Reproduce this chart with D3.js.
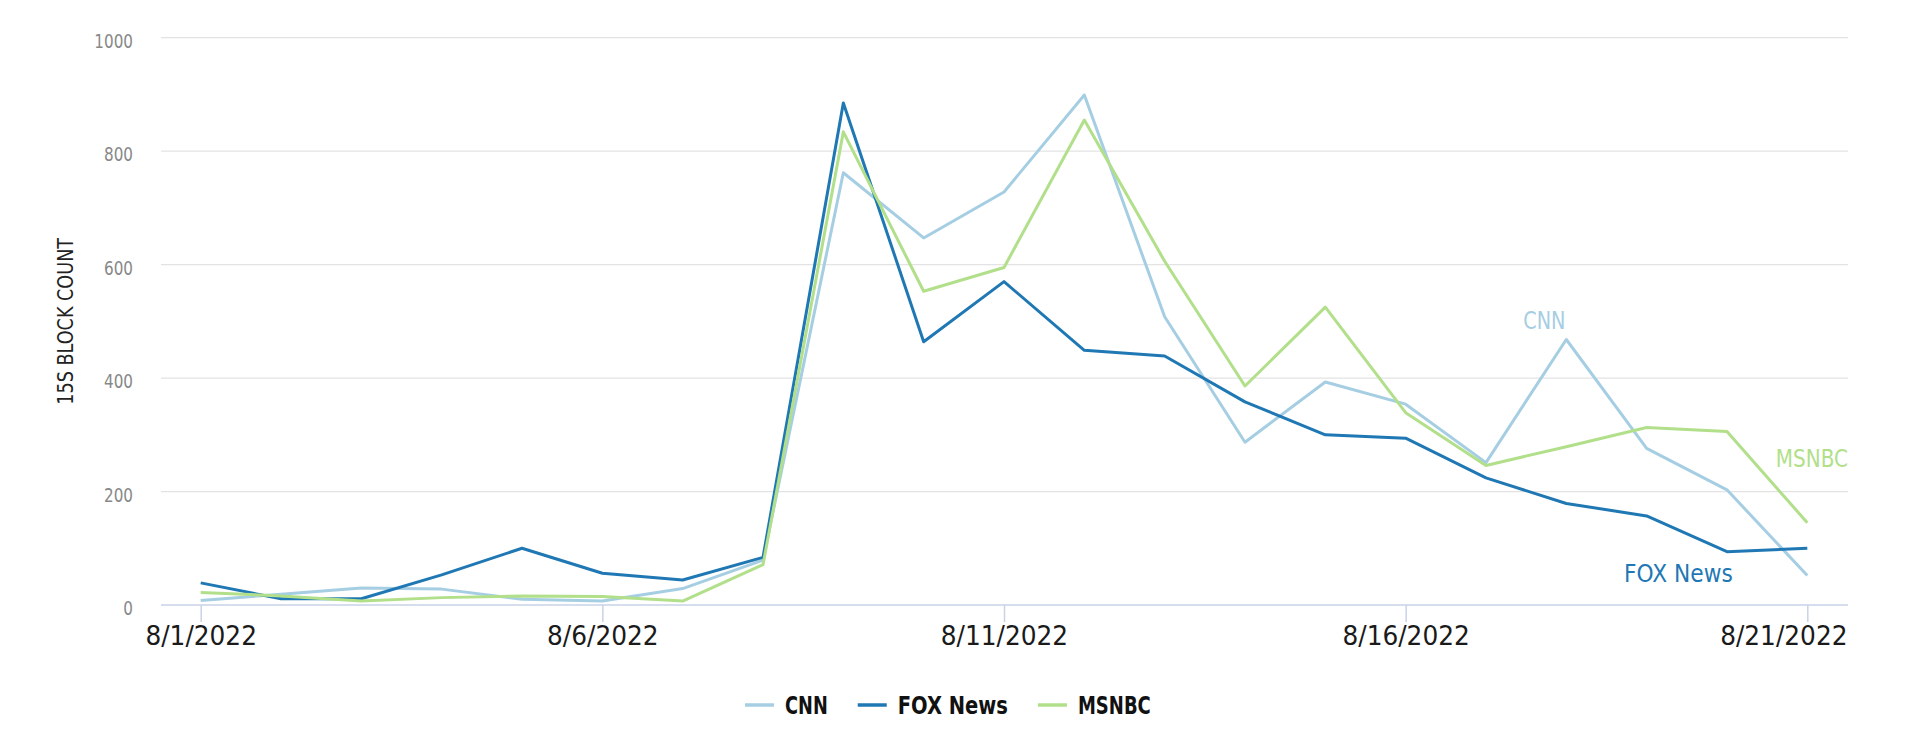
<!DOCTYPE html>
<html>
<head>
<meta charset="utf-8">
<script src="https://cdn.jsdelivr.net/npm/d3@7"></script>
<style>
  html, body { margin: 0; padding: 0; background: #fff; }
  svg { display: block; }
  .cond { font-family: "DejaVu Sans", sans-serif; }
</style>
</head>
<body>
<svg id="chart" width="1920" height="740"></svg>
<script>
const dates = ["2022-08-01","2022-08-02","2022-08-03","2022-08-04","2022-08-05","2022-08-06","2022-08-07",
  "2022-08-08","2022-08-09","2022-08-10","2022-08-11","2022-08-12","2022-08-13","2022-08-14",
  "2022-08-15","2022-08-16","2022-08-17","2022-08-18","2022-08-19","2022-08-20","2022-08-21"];
const cnn   = [8,19,30,28,10,7,29,79,762,647,728,899,508,287,393,354,251,468,276,203,52];
const fox   = [39,11,11,53,100,56,44,84,885,464,570,449,439,358,300,294,224,179,157,94,100];
const msnbc = [22,16,7,13,16,15,7,71,834,553,595,855,606,386,525,339,246,279,313,306,145];
const seriesNames = ["CNN","FOX News","MSNBC"];
const seriesColors = ["#a6cee3","#1f78b4","#b2df8a"];
const yTicks = [0,200,400,600,800,1000];
const xTickDates = ["2022-08-01","2022-08-06","2022-08-11","2022-08-16","2022-08-21"];
const yTitle = "15S BLOCK COUNT";

const parse = d3.timeParse("%Y-%m-%d");
const dts = dates.map(parse);
const svg = d3.select("#chart");

// horizontally condense text glyphs (no condensed font available offline)
function squeeze(sel, k) {
  sel.each(function () {
    const w = this.getComputedTextLength();
    d3.select(this).attr("textLength", w * k).attr("lengthAdjust", "spacingAndGlyphs");
  });
}

const gridLeft = 161, gridRight = 1848;
const x = d3.scaleTime().domain(d3.extent(dts)).range([200.7, 1807.3]);
const y = d3.scaleLinear().domain([0, 1000]).range([605, 37.7]);

// gridlines
svg.append("g").selectAll("line").data(yTicks.filter(d => d > 0)).join("line")
  .attr("x1", gridLeft).attr("x2", gridRight)
  .attr("y1", d => y(d)).attr("y2", d => y(d))
  .attr("stroke", "#e3e3e3").attr("stroke-width", 1.2);

// y tick labels
const yl = svg.append("g").selectAll("text").data(yTicks).join("text")
  .attr("class", "cond")
  .attr("x", 133).attr("y", d => y(d) + 10)
  .attr("text-anchor", "end")
  .attr("font-size", 20)
  .attr("fill", "#888").text(d => d);
squeeze(yl, 0.76);

// x axis
const xTicks = xTickDates.map(parse);
const xAxis = d3.axisBottom(x)
  .tickValues(xTicks)
  .tickFormat(d3.timeFormat("%-m/%-d/%Y"))
  .tickSize(17).tickSizeOuter(0).tickPadding(9);
const gx = svg.append("g").attr("transform", `translate(0,${y(0)})`).call(xAxis);
gx.select(".domain").remove();
gx.selectAll(".tick line").attr("stroke", "#c8d3e8").attr("stroke-width", 1.5);
const xt = gx.selectAll(".tick text").attr("class", "cond")
  .attr("font-size", 27).attr("fill", "#1a1a1a")
  .attr("dy", "0.5em");
squeeze(xt, 0.92);
// last label is kept inside the plot's right edge
gx.selectAll(".tick text").filter(d => +d === +xTicks[xTicks.length - 1])
  .attr("text-anchor", "end").attr("x", d => gridRight - 1 - x(d));
svg.append("line").attr("x1", gridLeft).attr("x2", gridRight)
  .attr("y1", y(0)).attr("y2", y(0))
  .attr("stroke", "#c8d3e8").attr("stroke-width", 1.5);

// y title
const yt = svg.append("text").attr("class", "cond")
  .attr("transform", `translate(73,${(y(0) + y(1000)) / 2}) rotate(-90)`)
  .attr("text-anchor", "middle").attr("font-size", 20.5)
  .attr("fill", "#222").text(yTitle);
squeeze(yt, 0.86);

// lines
const allSeries = [cnn, fox, msnbc];
const line = d3.line().x((d, i) => x(dts[i])).y(d => y(d));
svg.append("g").selectAll("path").data(allSeries).join("path")
  .attr("d", d => line(d))
  .attr("fill", "none")
  .attr("stroke", (d, i) => seriesColors[i])
  .attr("stroke-width", 3)
  .attr("stroke-linejoin", "round");

// direct labels
const lab = svg.append("g").attr("class", "cond").attr("font-size", 25);
const l1 = lab.append("text").attr("x", x(dts[17]) - 22).attr("y", y(cnn[17]) - 11)
  .attr("text-anchor", "middle").attr("fill", seriesColors[0]).text(seriesNames[0]);
const l3 = lab.append("text").attr("x", gridRight).attr("y", y(243))
  .attr("text-anchor", "end").attr("fill", seriesColors[2]).text(seriesNames[2]);
const l2 = lab.append("text").attr("x", x(dts[19]) - 103).attr("y", y(40))
  .attr("text-anchor", "start").attr("fill", seriesColors[1]).text(seriesNames[1]);
squeeze(l1, 0.77); squeeze(l3, 0.8); squeeze(l2, 0.87);

// legend
const leg = svg.append("g");
const legK = [0.71, 0.78, 0.72];
let lx = 745;
const ly = 705;
seriesNames.forEach((name, i) => {
  leg.append("line").attr("x1", lx).attr("x2", lx + 29).attr("y1", ly).attr("y2", ly)
    .attr("stroke", seriesColors[i]).attr("stroke-width", 3.5);
  const t = leg.append("text").attr("class", "cond")
    .attr("x", lx + 40).attr("y", ly + 9)
    .attr("font-size", 25).attr("font-weight", "bold")
    .attr("fill", "#111").text(name);
  squeeze(t, legK[i]);
  const w = +t.attr("textLength");
  lx = lx + 40 + w + 30;
});
</script>
</body>
</html>
